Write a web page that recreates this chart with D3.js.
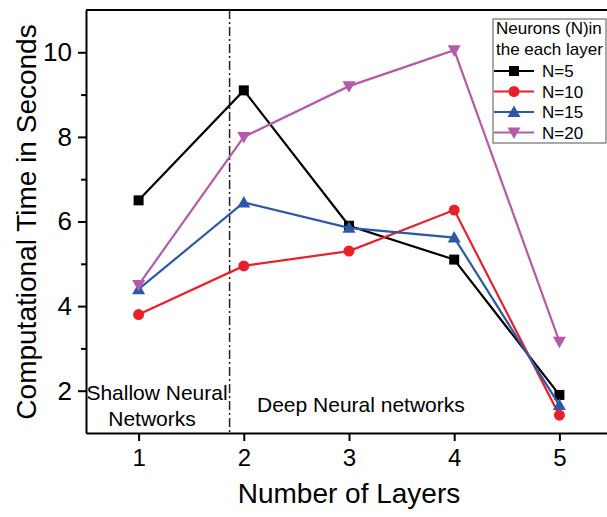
<!DOCTYPE html>
<html>
<head>
<meta charset="utf-8">
<script src="https://cdn.jsdelivr.net/npm/d3@7/dist/d3.min.js"></script>
<style>
  html, body { margin: 0; padding: 0; background: #fff; }
  svg { display: block; font-family: "Liberation Sans", Arial, Helvetica, sans-serif; }
</style>
</head>
<body>
<svg id="chart" width="607" height="517"></svg>
<script>
// Number of hidden layers on the x axis
const layers = [1, 2, 3, 4, 5];
// Computational time (seconds) for each neuron count per layer
const timeN5  = [6.5, 9.1, 5.9, 5.1, 1.9];
const timeN10 = [3.8, 4.95, 5.3, 6.27, 1.42];
const timeN15 = [4.4, 6.45, 5.85, 5.62, 1.66];
const timeN20 = [4.5, 8.0, 9.2, 10.05, 3.16];
const seriesNames = ["N=5", "N=10", "N=15", "N=20"];
const yMajorTicks = [2, 4, 6, 8, 10];
const yMinorTicks = [3, 5, 7, 9];
const xTicks = [1, 2, 3, 4, 5];
// boundary between shallow and deep networks
const boundaryX = 1.865;

const series = [
  { name: seriesNames[0], values: timeN5,  color: "#000000", symbol: "square" },
  { name: seriesNames[1], values: timeN10, color: "#e8202a", symbol: "circle" },
  { name: seriesNames[2], values: timeN15, color: "#2e58a6", symbol: "triUp" },
  { name: seriesNames[3], values: timeN20, color: "#b45aa8", symbol: "triDown" }
];

const svg = d3.select("#chart");
const plotLeft = 86, plotRight = 612, plotTop = 10, plotBottom = 433;

const x = d3.scaleLinear().domain([0.5, 5.5]).range([plotLeft, plotRight]);
const y = d3.scaleLinear().domain([1, 11]).range([plotBottom, plotTop]);

// marker shapes
function drawMarker(g, sym, cx, cy, color) {
  if (sym === "square") {
    g.append("rect").attr("x", cx - 5).attr("y", cy - 5).attr("width", 10).attr("height", 10).attr("fill", color);
  } else if (sym === "circle") {
    g.append("circle").attr("cx", cx).attr("cy", cy).attr("r", 5.5).attr("fill", color);
  } else if (sym === "triUp") {
    g.append("path").attr("d", `M${cx},${cy - 6.5}L${cx + 6.5},${cy + 5}L${cx - 6.5},${cy + 5}Z`).attr("fill", color);
  } else {
    g.append("path").attr("d", `M${cx},${cy + 6.5}L${cx + 6.5},${cy - 5}L${cx - 6.5},${cy - 5}Z`).attr("fill", color);
  }
}

// frame: top line
svg.append("line").attr("x1", plotLeft).attr("x2", plotRight).attr("y1", plotTop).attr("y2", plotTop)
  .attr("stroke", "#000").attr("stroke-width", 2);

// x axis
const xAxis = svg.append("g").attr("transform", `translate(0,${plotBottom})`)
  .call(d3.axisBottom(x).tickValues(xTicks).tickFormat(d3.format("d")).tickSize(8).tickSizeOuter(0).tickPadding(8));
xAxis.select(".domain").attr("stroke-width", 2);
xAxis.selectAll(".tick line").attr("stroke-width", 2);
xAxis.selectAll("text").attr("font-size", 24).attr("font-family", "Liberation Sans, Arial, sans-serif").attr("fill", "#000");

// y axis (minor ticks first)
const yMinor = svg.append("g").attr("transform", `translate(${plotLeft},0)`)
  .call(d3.axisLeft(y).tickValues(yMinorTicks).tickFormat("").tickSize(5).tickSizeOuter(0));
yMinor.select(".domain").remove();
yMinor.selectAll(".tick line").attr("stroke-width", 2);

const yAxis = svg.append("g").attr("transform", `translate(${plotLeft},0)`)
  .call(d3.axisLeft(y).tickValues(yMajorTicks).tickFormat(d3.format("d")).tickSize(8).tickSizeOuter(0).tickPadding(6));
yAxis.select(".domain").attr("stroke-width", 2);
yAxis.selectAll(".tick line").attr("stroke-width", 2);
yAxis.selectAll("text").attr("font-size", 26).attr("font-family", "Liberation Sans, Arial, sans-serif").attr("fill", "#000");

// axis titles
svg.append("text").attr("x", (x(1) + x(5)) / 2).attr("y", 503)
  .attr("text-anchor", "middle").attr("font-size", 28).text("Number of Layers");
svg.append("text").attr("transform", `translate(36,222) rotate(-90)`)
  .attr("text-anchor", "middle").attr("font-size", 28).text("Computational Time in Seconds");

// shallow / deep boundary
svg.append("line").attr("x1", x(boundaryX)).attr("x2", x(boundaryX)).attr("y1", plotTop).attr("y2", plotBottom)
  .attr("stroke", "#222").attr("stroke-width", 1.5).attr("stroke-dasharray", "9,3,2,3");

// region labels
svg.append("text").attr("x", 157).attr("y", 400).attr("text-anchor", "middle").attr("font-size", 21).text("Shallow Neural");
svg.append("text").attr("x", 152).attr("y", 426).attr("text-anchor", "middle").attr("font-size", 21).text("Networks");
svg.append("text").attr("x", 257).attr("y", 412).attr("font-size", 21).text("Deep Neural networks");

// series lines and markers
const line = d3.line().x((d, i) => x(layers[i])).y(d => y(d));
series.forEach(s => {
  const g = svg.append("g");
  g.append("path").datum(s.values).attr("d", line).attr("fill", "none")
    .attr("stroke", s.color).attr("stroke-width", 2.2);
  s.values.forEach((v, i) => drawMarker(g, s.symbol, x(layers[i]), y(v), s.color));
});

// legend
const lg = svg.append("g");
lg.append("rect").attr("x", 493).attr("y", 19).attr("width", 113).attr("height", 124)
  .attr("fill", "#fff").attr("stroke", "#555").attr("stroke-width", 1);
lg.append("text").attr("x", 496).attr("y", 34).attr("font-size", 17).text("Neurons (N)in");
lg.append("text").attr("x", 496).attr("y", 55).attr("font-size", 17).text("the each layer");
series.forEach((s, i) => {
  const cy = 71 + i * 20.5;
  lg.append("line").attr("x1", 494).attr("x2", 534).attr("y1", cy).attr("y2", cy)
    .attr("stroke", s.color).attr("stroke-width", 2.2);
  drawMarker(lg, s.symbol, 514, cy, s.color);
  lg.append("text").attr("x", 542).attr("y", cy + 6).attr("font-size", 17).text(s.name);
});
</script>
</body>
</html>
